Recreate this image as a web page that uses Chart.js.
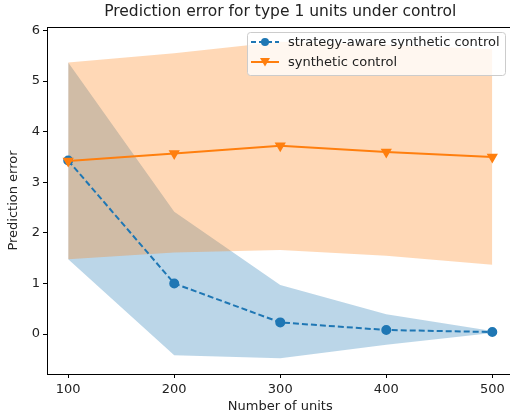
<!DOCTYPE html>
<html>
<head>
    <title>Prediction error</title>
    <script src="https://cdn.jsdelivr.net/npm/chart.js@4"></script>
    <style>
        html, body { margin: 0; padding: 0; overflow: hidden; background: #fff; }
    </style>
</head>
<body>
    <canvas id="chart" width="520" height="414"></canvas>
    <script>
        // values
        const units = [100, 200, 300, 400, 500];

        const awareMean = [3.43, 1.0, 0.23, 0.08, 0.04];
        const awareUpper = [5.37, 2.42, 0.97, 0.39, 0.06];
        const awareLower = [1.48, -0.42, -0.48, -0.21, 0.02];

        const synthMean = [3.42, 3.57, 3.72, 3.60, 3.50];
        const synthUpper = [5.37, 5.55, 5.78, 5.72, 5.63];
        const synthLower = [1.48, 1.61, 1.66, 1.55, 1.37];

        const xTicks = [100, 200, 300, 400, 500];
        const yTicks = [0, 1, 2, 3, 4, 5, 6];

        const titleText = 'Prediction error for type 1 units under control';

        const blue = '#1f77b4';
        const orange = '#ff7f0e';
        const font = 'DejaVu Sans';

        const pts = (ys) => units.map((x, i) => ({ x: x, y: ys[i] }));

        // title centred over the axes, frame, and legend box in the top right corner
        const frameAndLegend = {
            id: 'frameAndLegend',
            afterDraw(chart) {
                const { ctx, chartArea: a } = chart;
                ctx.save();
                ctx.strokeStyle = '#000';
                ctx.lineWidth = 1;
                ctx.strokeRect(Math.round(a.left) + 0.5, Math.round(a.top) + 0.5,
                    Math.round(a.right - a.left), Math.round(a.bottom - a.top));

                ctx.fillStyle = '#222';
                ctx.font = '15.5px "' + font + '"';
                ctx.textAlign = 'center';
                ctx.textBaseline = 'middle';
                ctx.fillText(titleText, (a.left + a.right) / 2, 12);
                ctx.textAlign = 'left';

                // legend
                const lx = 247, ly = 32, lw = 258, lh = 43;
                ctx.fillStyle = 'rgba(255,255,255,0.8)';
                ctx.strokeStyle = '#cccccc';
                ctx.beginPath();
                ctx.roundRect(lx + 0.5, ly + 0.5, lw, lh, 3);
                ctx.fill();
                ctx.stroke();

                const items = [
                    { label: 'strategy-aware synthetic control', color: blue, dash: [5, 3], marker: 'circle' },
                    { label: 'synthetic control', color: orange, dash: [], marker: 'tri' }
                ];
                items.forEach((it, i) => {
                    const cy = ly + 10 + i * 20;
                    ctx.strokeStyle = it.color;
                    ctx.fillStyle = it.color;
                    ctx.lineWidth = 2;
                    ctx.setLineDash(it.dash);
                    ctx.beginPath();
                    ctx.moveTo(lx + 4, cy);
                    ctx.lineTo(lx + 32, cy);
                    ctx.stroke();
                    ctx.setLineDash([]);
                    ctx.beginPath();
                    if (it.marker === 'circle') {
                        ctx.arc(lx + 18, cy, 4, 0, Math.PI * 2);
                    } else {
                        ctx.moveTo(lx + 13, cy - 4);
                        ctx.lineTo(lx + 23, cy - 4);
                        ctx.lineTo(lx + 18, cy + 4.5);
                        ctx.closePath();
                    }
                    ctx.fill();
                    ctx.fillStyle = '#222';
                    ctx.font = '13px "' + font + '"';
                    ctx.textBaseline = 'middle';
                    ctx.fillText(it.label, lx + 41, cy + 1);
                });
                ctx.restore();
            }
        };

        const canvas = document.getElementById('chart');

        const chart = new Chart(canvas, {
            type: 'line',
            data: {
                datasets: [
                    // lower index is drawn later, so orange line sits on top of blue
                    {
                        label: 'synthetic control',
                        data: pts(synthMean),
                        borderColor: orange,
                        backgroundColor: orange,
                        borderWidth: 2,
                        pointRadius: 4.5,
                        pointStyle: 'triangle',
                        rotation: 180,
                        fill: false,
                    },
                    {
                        label: 'strategy-aware synthetic control',
                        data: pts(awareMean),
                        borderColor: blue,
                        backgroundColor: blue,
                        borderWidth: 2,
                        borderDash: [6, 3],
                        pointRadius: 4,
                        pointStyle: 'circle',
                        fill: false,
                    },
                    {
                        label: 'synth upper',
                        data: pts(synthUpper),
                        borderWidth: 0,
                        pointRadius: 0,
                        backgroundColor: 'rgba(255,127,14,0.3)',
                        fill: '+1',
                    },
                    {
                        label: 'synth lower',
                        data: pts(synthLower),
                        borderWidth: 0,
                        pointRadius: 0,
                        fill: false,
                    },
                    {
                        label: 'aware upper',
                        data: pts(awareUpper),
                        borderWidth: 0,
                        pointRadius: 0,
                        backgroundColor: 'rgba(31,119,180,0.3)',
                        fill: '+1',
                    },
                    {
                        label: 'aware lower',
                        data: pts(awareLower),
                        borderWidth: 0,
                        pointRadius: 0,
                        fill: false,
                    },
                ],
            },
            options: {
                responsive: false,
                animation: false,
                layout: { padding: { top: 27, right: 0 } },
                scales: {
                    x: {
                        type: 'linear',
                        min: 80,
                        max: 520,
                        afterBuildTicks: (s) => { s.ticks = xTicks.map(v => ({ value: v })); },
                        afterFit: (s) => { s.height = 40; },
                        grid: { display: true, drawOnChartArea: false, drawTicks: true, tickLength: 4, color: '#000' },
                        border: { display: false },
                        ticks: { color: '#222', font: { family: font, size: 13 }, padding: 4, maxRotation: 0 },
                        title: { display: true, text: 'Number of units', color: '#222', font: { family: font, size: 13 }, padding: { top: 0, bottom: 0 } },
                    },
                    y: {
                        type: 'linear',
                        min: -0.79,
                        max: 6.07,
                        afterBuildTicks: (s) => { s.ticks = yTicks.map(v => ({ value: v })); },
                        afterFit: (s) => { s.width = 47; },
                        grid: { display: true, drawOnChartArea: false, drawTicks: true, tickLength: 4, color: '#000' },
                        border: { display: false },
                        ticks: { color: '#222', font: { family: font, size: 13 }, padding: 3 },
                        title: { display: true, text: 'Prediction error', color: '#222', font: { family: font, size: 13 }, padding: { top: 6, bottom: 2 } },
                    },
                },
                plugins: {
                    legend: { display: false },
                    tooltip: { enabled: false },
                    filler: { drawTime: 'beforeDatasetsDraw' },
                    title: { display: false },
                },
            },
            plugins: [frameAndLegend],
        });
    </script>
</body>
</html>
